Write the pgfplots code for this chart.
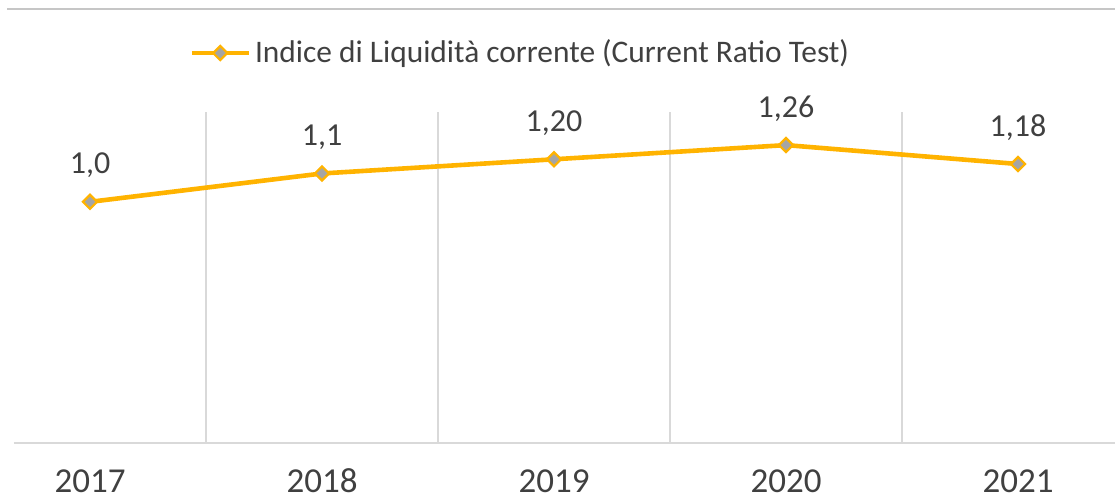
\documentclass[border=0pt]{standalone}
\usepackage{pgfplots}
\pgfplotsset{compat=1.18}
\usepackage{pgfplotstable}
\usepackage{fontspec}
\setmainfont{Carlito}
\definecolor{lineorange}{HTML}{FFB300}
\definecolor{markgray}{HTML}{A5A5A5}
\definecolor{gridgray}{HTML}{D9D9D9}
\definecolor{txt}{HTML}{404040}
\pgfplotstableread{
x y label
0 1.02 1,0
1 1.14 1,1
2 1.20 1,20
3 1.26 1,26
4 1.18 1,18
}\ratio
\begin{document}
\begin{tikzpicture}
\useasboundingbox (0,0) rectangle (557.5pt,249.5pt);
\draw[line width=1.3pt, color=gridgray!90!black!95] (3.5pt,245pt) -- (557.5pt,245pt);
\begin{axis}[
  at={(7pt,28pt)}, anchor=south west,
  scale only axis,
  width=550.5pt, height=165.5pt,
  xmin=-0.3276, xmax=4.418,
  ymin=0, ymax=1.4,
  clip=false,
  hide y axis,
  axis x line*=bottom,
  x axis line style={-, draw=gridgray, line width=0.8pt},
  major tick length=0pt,
  xtick={0,1,2,3,4},
  xticklabels={2017,2018,2019,2020,2021},
  xticklabel style={anchor=base, yshift=-24.5pt, font=\fontsize{17.5}{21}\selectfont, text=txt},
  extra x ticks={0.5,1.5,2.5,3.5},
  extra x tick labels={},
  extra x tick style={grid=major, major grid style={draw=gridgray, line width=0.8pt}},
  legend style={at={(0.159,1.1782)}, anchor=west, draw=none, fill=none,
    inner sep=0pt, column sep=2pt, nodes={inner sep=0pt},
    font=\fontsize{15.7}{18}\selectfont, text=txt},
  legend image code/.code={
    \draw[mark repeat=2,mark phase=2,#1] plot coordinates {(0pt,0pt) (14.25pt,0pt) (28.5pt,0pt)};
  },
  nodes near coords,
  point meta=explicit symbolic,
  every node near coord/.append style={anchor=base, yshift=14pt, inner sep=0pt,
    font=\fontsize{16}{19}\selectfont, text=txt},
]
\addplot[color=lineorange, line width=2.3pt, mark=square*, mark size=2.5pt,
  mark options={rotate=45, fill=markgray, draw=lineorange, line width=1.1pt}]
  table[x=x, y=y, meta=label] {\ratio};
\addlegendentry{Indice di Liquidità corrente (Current Ratio Test)}
\end{axis}
\end{tikzpicture}
\end{document}
